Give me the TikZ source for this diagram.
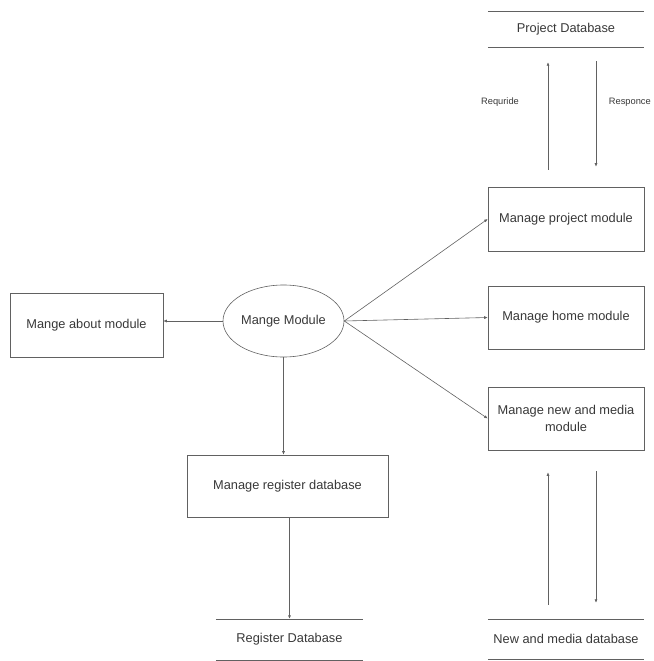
\documentclass[tikz,border=0pt]{standalone}
\usepackage{fontspec}
\setmainfont{Liberation Sans}
\usetikzlibrary{shapes.geometric,arrows.meta}
\definecolor{linegray}{gray}{0.38}
\definecolor{textgray}{gray}{0.22}

\begin{document}
\begin{tikzpicture}[x=1pt,y=-1pt,>={Latex[length=3.5pt,width=3pt]},
  box/.style={draw=linegray,line width=0.6pt,minimum height=64pt,inner sep=2pt,text=textgray,font=\fontsize{12.8}{17}\selectfont},
  store/.style={minimum width=156pt,inner sep=0pt,text=textgray,font=\fontsize{12.8}{15}\selectfont},
  storeline/.style={draw=linegray,line width=0.6pt},
  flow/.style={->,draw=linegray,line width=0.6pt},
  lbl/.style={text=textgray,font=\fontsize{9.3}{11}\selectfont}]
\useasboundingbox (0,0) rectangle (653,661);

% processes
\node [ellipse,draw=linegray,line width=0.6pt,minimum width=121pt,minimum height=72pt,inner sep=0pt,text=textgray,font=\fontsize{12.8}{15}\selectfont] (mm) at (283.5,321) {Mange Module};
\node [box,minimum width=153pt] (about) at (86.5,325) {Mange about module};
\node [box,minimum width=156pt] (proj) at (566,219) {Manage project module};
\node [box,minimum width=156pt,minimum height=63pt] (home) at (566,317.5) {Manage home module};
\node [box,minimum width=156pt,minimum height=63pt,align=center] (media) at (566,418.5) {Manage new and media\\module};
\node [box,minimum width=201pt,minimum height=62pt] (reg) at (287.5,486) {Manage register database};

% data stores
\node [store,minimum height=35pt] (pdb) at (566,29.5) {Project Database};
\node [store,minimum height=40pt] (mdb) at (566,639) {New and media database};
\node [store,minimum width=147pt,minimum height=41pt] (rdb) at (289.5,639.5) {Register Database};
\draw [storeline] (pdb.north west) -- (pdb.north east) (pdb.south west) -- (pdb.south east);
\draw [storeline] (mdb.north west) -- (mdb.north east) (mdb.south west) -- (mdb.south east);
\draw [storeline] (rdb.north west) -- (rdb.north east) (rdb.south west) -- (rdb.south east);

% flows
\draw [flow] (mm.west) -- (mm.west -| about.east);
\draw [flow] (mm.east) -- (proj.west);
\draw [flow] (mm.east) -- (home.west);
\draw [flow] (mm.east) -- (media.west);
\draw [flow] (mm.south) -- (mm.south |- reg.north);
\draw [flow] (reg.south -| rdb.north) -- (rdb.north);

\draw [flow,shorten <=17pt,shorten >=15pt] (proj.north -| 548,0) -- (pdb.south -| 548,0);
\draw [flow,shorten <=14pt,shorten >=20pt] (pdb.south -| 596,0) -- (proj.north -| 596,0);
\draw [flow,shorten <=14pt,shorten >=22pt] (mdb.north -| 548,0) -- (media.south -| 548,0);
\draw [flow,shorten <=21pt,shorten >=16pt] (media.south -| 596,0) -- (mdb.north -| 596,0);

\node [lbl] (req) at (500,102) {Requride};
\node [lbl,anchor=east,inner sep=0pt] (resp) at (651,102) {Responce};
\end{tikzpicture}
\end{document}
